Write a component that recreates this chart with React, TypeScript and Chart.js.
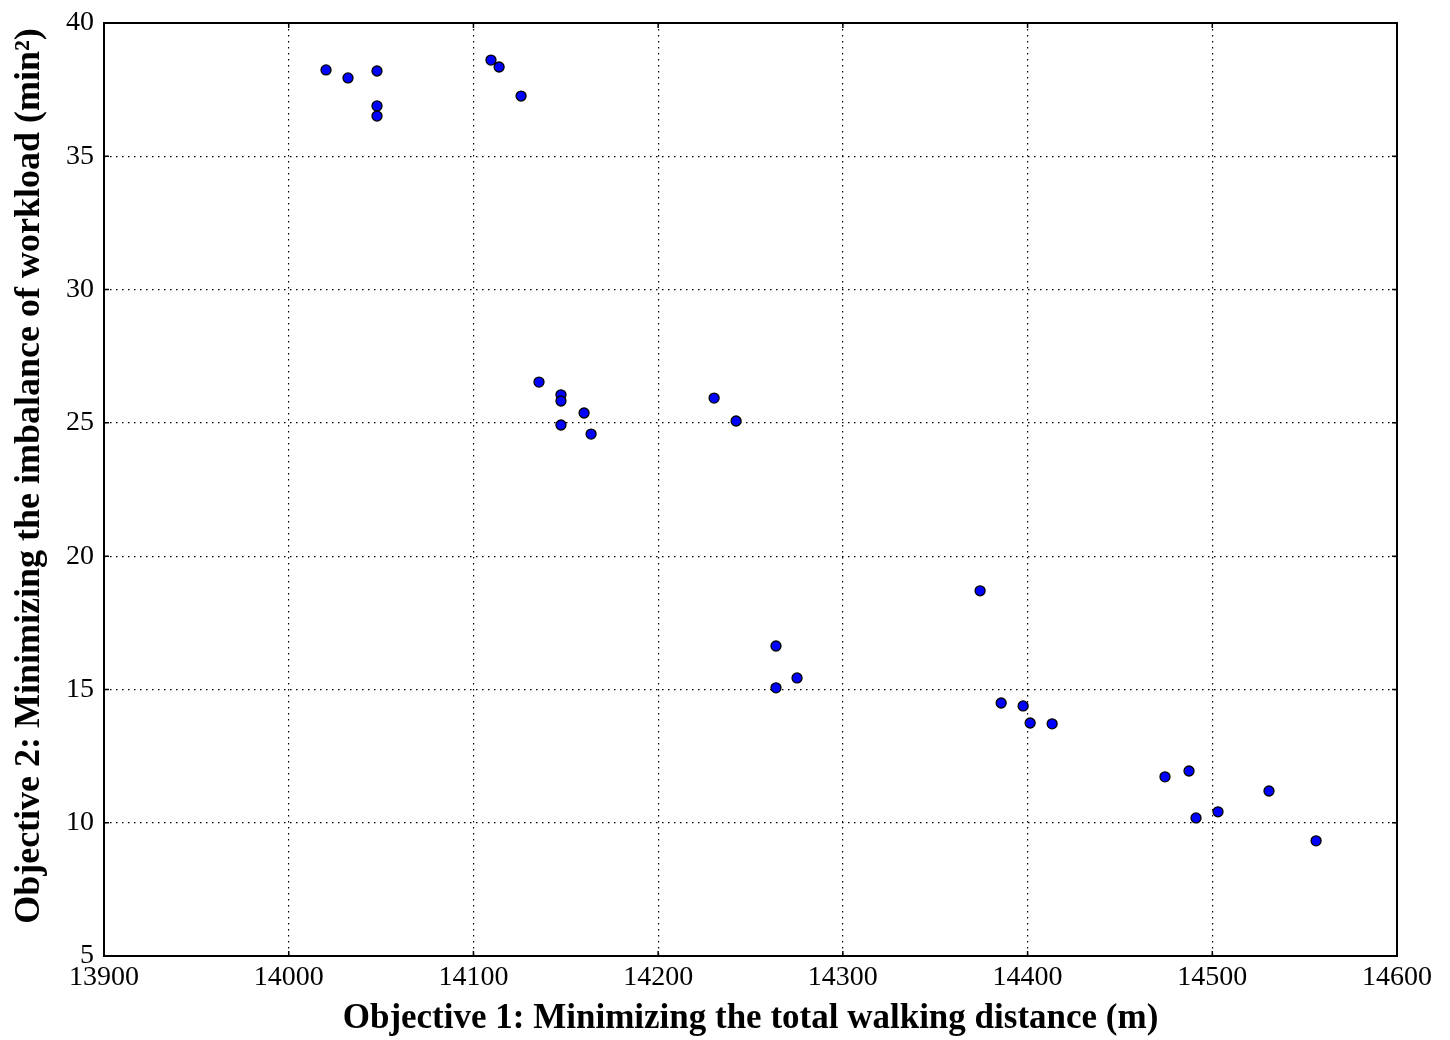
import React, { useEffect, useRef } from "react";
import { Chart, registerables } from "chart.js";

Chart.register(...registerables);

const walkingDistance = [
  14020.2, 14032.1, 14047.8, 14047.8, 14047.8, 14109.5, 14113.9, 14125.8,
  14135.5, 14147.4, 14147.4, 14159.9, 14147.4, 14163.7, 14230.3, 14242.2,
  14263.8, 14263.8, 14275.2, 14374.3, 14385.7, 14397.6, 14401.4, 14413.3,
  14474.4, 14487.4, 14491.2, 14503.1, 14530.7, 14556.2,
];
const workloadImbalance = [
  38.24, 37.94, 38.2, 36.89, 36.51, 38.61, 38.35, 37.26,
  26.53, 26.05, 25.82, 25.37, 24.92, 24.58, 25.93, 25.07,
  16.63, 15.06, 15.43, 18.7, 14.49, 14.38, 13.74, 13.71,
  11.72, 11.94, 10.18, 10.41, 11.19, 9.32,
];
const xTicks = [13900, 14000, 14100, 14200, 14300, 14400, 14500, 14600];
const yTicks = [5, 10, 15, 20, 25, 30, 35, 40];
const xTitle = "Objective 1: Minimizing the total walking distance (m)";
const yTitle = "Objective 2: Minimizing the imbalance of workload (min\u00B2)";

const FONT = "'Liberation Serif', 'DejaVu Serif', serif";

const framePlugin = {
  id: "frameTicks",
  afterDatasetsDraw(chart: any) {
    const { ctx, chartArea } = chart;
    const xs = chart.scales.x;
    const ys = chart.scales.y;
    ctx.save();
    ctx.strokeStyle = "#000";
    ctx.lineWidth = 1.5;
    ctx.beginPath();
    const L = 5;
    xTicks.forEach((v) => {
      const px = xs.getPixelForValue(v);
      ctx.moveTo(px, chartArea.bottom);
      ctx.lineTo(px, chartArea.bottom - L);
      ctx.moveTo(px, chartArea.top);
      ctx.lineTo(px, chartArea.top + L);
    });
    yTicks.forEach((v) => {
      const py = ys.getPixelForValue(v);
      ctx.moveTo(chartArea.left, py);
      ctx.lineTo(chartArea.left + L, py);
      ctx.moveTo(chartArea.right, py);
      ctx.lineTo(chartArea.right - L, py);
    });
    ctx.stroke();
    ctx.lineWidth = 2;
    ctx.strokeRect(
      chartArea.left,
      chartArea.top,
      chartArea.right - chartArea.left,
      chartArea.bottom - chartArea.top
    );
    // y-axis title
    ctx.translate(30, 476);
    ctx.rotate(-Math.PI / 2);
    ctx.fillStyle = "#000";
    ctx.font = "bold 36px " + FONT;
    ctx.textAlign = "center";
    ctx.textBaseline = "middle";
    ctx.fillText(yTitle, 0, 0);
    ctx.restore();
  },
};

export default function App() {
  const ref = useRef<HTMLCanvasElement | null>(null);
  useEffect(() => {
    document.body.style.margin = "0";
    const canvas = ref.current;
    if (!canvas) return;
    const points = walkingDistance.map((x, i) => ({ x, y: workloadImbalance[i] }));
    const chart = new Chart(canvas, {
      type: "scatter",
      data: {
        datasets: [
          {
            data: points,
            backgroundColor: "#0000ff",
            borderColor: "#000000",
            borderWidth: 1.3,
            pointRadius: 5,
            pointHoverRadius: 5,
          },
        ],
      },
      options: {
        responsive: false,
        animation: false,
        events: [],
        layout: { padding: { left: 0, top: 23, right: 53, bottom: 0 } },
        plugins: {
          legend: { display: false },
          tooltip: { enabled: false },
        },
        scales: {
          x: {
            type: "linear",
            min: 13900,
            max: 14600,
            afterBuildTicks: (s: any) => {
              s.ticks = xTicks.map((v) => ({ value: v }));
            },
            afterFit: (s: any) => {
              s.height = 84;
            },
            ticks: {
              color: "#000",
              font: { family: FONT, size: 28 },
              padding: 5,
              maxRotation: 0,
              callback: (v: any) => String(v),
            },
            grid: {
              color: "#000",
              lineWidth: 1.2,
              drawTicks: false,
            },
            border: { display: false, dash: [1.5, 4.5] },
            title: {
              display: true,
              text: xTitle,
              color: "#000",
              font: { family: FONT, size: 35, weight: "bold" },
              padding: { top: 0, bottom: 0 },
            },
          },
          y: {
            type: "linear",
            min: 5,
            max: 40,
            afterBuildTicks: (s: any) => {
              s.ticks = yTicks.map((v) => ({ value: v }));
            },
            afterFit: (s: any) => {
              s.width = 104;
              s.paddingTop = 0;
              s.paddingBottom = 0;
            },
            ticks: {
              color: "#000",
              font: { family: FONT, size: 28 },
              padding: 10,
              callback: (v: any) => String(v),
            },
            grid: {
              color: "#000",
              lineWidth: 1.2,
              drawTicks: false,
            },
            border: { display: false, dash: [1.5, 4.5] },
            title: { display: false, text: yTitle },
          },
        },
      },
      plugins: [framePlugin],
    });
    return () => chart.destroy();
  }, []);
  return (
    <div style={{ position: "absolute", left: 0, top: 0, width: 1450, height: 1040, background: "#fff" }}>
      <canvas ref={ref} width={1450} height={1040} style={{ width: 1450, height: 1040, display: "block" }} />
    </div>
  );
}
